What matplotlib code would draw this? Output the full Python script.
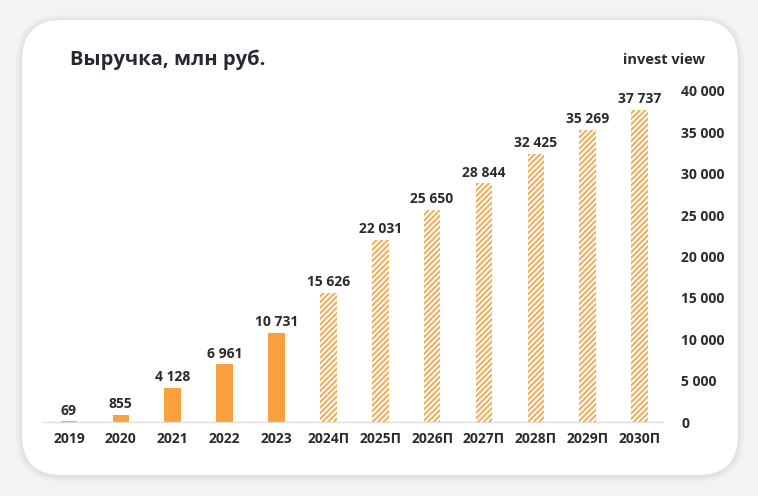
import matplotlib
matplotlib.use("Agg")
import matplotlib.pyplot as plt
from matplotlib.patches import FancyBboxPatch
import matplotlib as mpl

categories = ["2019", "2020", "2021", "2022", "2023", "2024П", "2025П", "2026П",
              "2027П", "2028П", "2029П", "2030П"]
values = [69, 855, 4128, 6961, 10731, 15626, 22031, 25650, 28844, 32425, 35269, 37737]
forecast = [False] * 5 + [True] * 7
yticks = [0, 5000, 10000, 15000, 20000, 25000, 30000, 35000, 40000]

def fmt(v):
    return f"{v:,}".replace(",", " ")

plt.rcParams['font.family'] = ['Open Sans', 'DejaVu Sans']
plt.rcParams['hatch.linewidth'] = 1.5
plt.rcParams['hatch.color'] = '#F0AE5E'

W, H = 758, 496
fig = plt.figure(figsize=(W / 100, H / 100), dpi=100)
fig.patch.set_facecolor('#F3F3F3')

# shadow + card
for i, a in enumerate([0.02, 0.02, 0.03]):
    d = 6 - i * 2
    sh = FancyBboxPatch((22 - d, 20 - d), 716 + 2 * d, 455 + 2 * d,
                        boxstyle="round,pad=0,rounding_size=%d" % (40 + d),
                        transform=None, facecolor='#000000', alpha=a,
                        edgecolor='none', zorder=0)
    fig.patches.append(sh)
card = FancyBboxPatch((22, 496 - 475), 716, 455,
                      boxstyle="round,pad=0,rounding_size=40",
                      transform=None, facecolor='white', edgecolor='none', zorder=1)
fig.patches.append(card)

ax = fig.add_axes([43 / W, (H - 422) / H, (663 - 43) / W, (422 - 91) / H])
ax.set_facecolor('none')
ax.set_zorder(2)

solid_color = '#F9A03F'
for i, (v, f) in enumerate(zip(values, forecast)):
    if f:
        ax.bar(i, v, width=0.32, facecolor='white', edgecolor='#F0AE5E',
               hatch='//////', linewidth=0)
    else:
        ax.bar(i, v, width=0.32, color=solid_color, linewidth=0)
    ax.text(i, v + 450, fmt(v), ha='center', va='bottom', fontsize=10,
            fontweight='bold', color='#2B2B2B')

ax.set_xlim(-0.5, 11.45)
ax.set_ylim(0, 40000)
ax.set_xticks(range(len(categories)))
ax.set_xticklabels(categories, fontsize=10, fontweight='bold', color='#2B2B2B')
ax.yaxis.tick_right()
ax.set_yticks(yticks)
ax.set_yticklabels([fmt(t) for t in yticks], fontsize=10, fontweight='bold',
                   color='#2B2B2B', ha='left')
ax.tick_params(axis='both', length=0)
ax.tick_params(axis='y', pad=13)
ax.tick_params(axis='x', pad=7)
for s in ['top', 'left', 'right']:
    ax.spines[s].set_visible(False)
ax.spines['bottom'].set_color('#DDDDDD')
ax.spines['bottom'].set_linewidth(1)

fig.text(70 / W, 1 - 60 / H, "Выручка, млн руб.", fontsize=14.5, fontweight='bold',
         color='#242933', va='center', ha='left', zorder=3)
fig.text(705 / W, 1 - 60 / H, "invest view", fontsize=10.5, fontweight='bold',
         color='#2B2B2B', va='center', ha='right', zorder=3)

fig.savefig("out.png", dpi=100, facecolor=fig.get_facecolor())
